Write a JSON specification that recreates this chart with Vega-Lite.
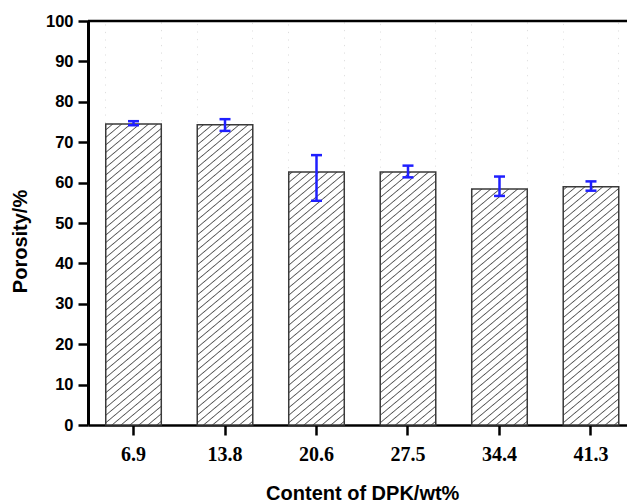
{
  "$schema": "https://vega.github.io/schema/vega-lite/v6.json",
  "width": 539,
  "height": 404,
  "autosize": {"type": "none"},
  "padding": {"left": 88, "top": 21, "right": 0, "bottom": 77},
  "background": "white",
  "data": {"values": [
    {"content": 6.9, "porosity": 74.5, "lo": 74.2, "hi": 75.2},
    {"content": 13.8, "porosity": 74.3, "lo": 72.8, "hi": 75.7},
    {"content": 20.6, "porosity": 62.6, "lo": 55.5, "hi": 66.8},
    {"content": 27.5, "porosity": 62.6, "lo": 61.3, "hi": 64.2},
    {"content": 34.4, "porosity": 58.4, "lo": 56.7, "hi": 61.5},
    {"content": 41.3, "porosity": 59.0, "lo": 58.0, "hi": 60.3}
  ]},
  "config": {
    "view": {"stroke": null},
    "axis": {"grid": false, "domainColor": "black", "domainWidth": 2.5, "domainOpacity": 1, "tickColor": "black", "tickWidth": 2.5, "tickSize": 10, "labelColor": "black", "titleColor": "black", "labelFontWeight": "bold", "titleFontWeight": "bold", "titleFont": "Liberation Sans", "titleFontSize": 20},
    "axisX": {"labelFont": "Liberation Serif", "labelFontSize": 20, "labelAngle": 0, "labelPadding": 25, "labelBaseline": "alphabetic", "titleY": 74, "titleBaseline": "alphabetic"},
    "axisY": {"labelFont": "Liberation Sans", "labelFontSize": 16.5, "labelPadding": 5, "titleX": -68, "titleY": 220, "titleBaseline": "middle", "values": [0, 10, 20, 30, 40, 50, 60, 70, 80, 90, 100]}
  },
  "layer": [
    {
      "mark": {"type": "bar", "stroke": null, "fill": {"gradient": "linear", "x1": 0, "y1": 0, "x2": 0.1269, "y2": 1.1007, "stops": [
        {"offset": 0.0058, "color": "#fff"}, {"offset": 0.0083, "color": "#555"}, {"offset": 0.0108, "color": "#fff"},
        {"offset": 0.0225, "color": "#fff"}, {"offset": 0.0250, "color": "#555"}, {"offset": 0.0275, "color": "#fff"},
        {"offset": 0.0392, "color": "#fff"}, {"offset": 0.0417, "color": "#555"}, {"offset": 0.0442, "color": "#fff"},
        {"offset": 0.0558, "color": "#fff"}, {"offset": 0.0583, "color": "#555"}, {"offset": 0.0608, "color": "#fff"},
        {"offset": 0.0725, "color": "#fff"}, {"offset": 0.0750, "color": "#555"}, {"offset": 0.0775, "color": "#fff"},
        {"offset": 0.0892, "color": "#fff"}, {"offset": 0.0917, "color": "#555"}, {"offset": 0.0942, "color": "#fff"},
        {"offset": 0.1058, "color": "#fff"}, {"offset": 0.1083, "color": "#555"}, {"offset": 0.1108, "color": "#fff"},
        {"offset": 0.1225, "color": "#fff"}, {"offset": 0.1250, "color": "#555"}, {"offset": 0.1275, "color": "#fff"},
        {"offset": 0.1392, "color": "#fff"}, {"offset": 0.1417, "color": "#555"}, {"offset": 0.1442, "color": "#fff"},
        {"offset": 0.1558, "color": "#fff"}, {"offset": 0.1583, "color": "#555"}, {"offset": 0.1608, "color": "#fff"},
        {"offset": 0.1725, "color": "#fff"}, {"offset": 0.1750, "color": "#555"}, {"offset": 0.1775, "color": "#fff"},
        {"offset": 0.1892, "color": "#fff"}, {"offset": 0.1917, "color": "#555"}, {"offset": 0.1942, "color": "#fff"},
        {"offset": 0.2058, "color": "#fff"}, {"offset": 0.2083, "color": "#555"}, {"offset": 0.2108, "color": "#fff"},
        {"offset": 0.2225, "color": "#fff"}, {"offset": 0.2250, "color": "#555"}, {"offset": 0.2275, "color": "#fff"},
        {"offset": 0.2392, "color": "#fff"}, {"offset": 0.2417, "color": "#555"}, {"offset": 0.2442, "color": "#fff"},
        {"offset": 0.2558, "color": "#fff"}, {"offset": 0.2583, "color": "#555"}, {"offset": 0.2608, "color": "#fff"},
        {"offset": 0.2725, "color": "#fff"}, {"offset": 0.2750, "color": "#555"}, {"offset": 0.2775, "color": "#fff"},
        {"offset": 0.2892, "color": "#fff"}, {"offset": 0.2917, "color": "#555"}, {"offset": 0.2942, "color": "#fff"},
        {"offset": 0.3058, "color": "#fff"}, {"offset": 0.3083, "color": "#555"}, {"offset": 0.3108, "color": "#fff"},
        {"offset": 0.3225, "color": "#fff"}, {"offset": 0.3250, "color": "#555"}, {"offset": 0.3275, "color": "#fff"},
        {"offset": 0.3392, "color": "#fff"}, {"offset": 0.3417, "color": "#555"}, {"offset": 0.3442, "color": "#fff"},
        {"offset": 0.3558, "color": "#fff"}, {"offset": 0.3583, "color": "#555"}, {"offset": 0.3608, "color": "#fff"},
        {"offset": 0.3725, "color": "#fff"}, {"offset": 0.3750, "color": "#555"}, {"offset": 0.3775, "color": "#fff"},
        {"offset": 0.3892, "color": "#fff"}, {"offset": 0.3917, "color": "#555"}, {"offset": 0.3942, "color": "#fff"},
        {"offset": 0.4058, "color": "#fff"}, {"offset": 0.4083, "color": "#555"}, {"offset": 0.4108, "color": "#fff"},
        {"offset": 0.4225, "color": "#fff"}, {"offset": 0.4250, "color": "#555"}, {"offset": 0.4275, "color": "#fff"},
        {"offset": 0.4392, "color": "#fff"}, {"offset": 0.4417, "color": "#555"}, {"offset": 0.4442, "color": "#fff"},
        {"offset": 0.4558, "color": "#fff"}, {"offset": 0.4583, "color": "#555"}, {"offset": 0.4608, "color": "#fff"},
        {"offset": 0.4725, "color": "#fff"}, {"offset": 0.4750, "color": "#555"}, {"offset": 0.4775, "color": "#fff"},
        {"offset": 0.4892, "color": "#fff"}, {"offset": 0.4917, "color": "#555"}, {"offset": 0.4942, "color": "#fff"},
        {"offset": 0.5058, "color": "#fff"}, {"offset": 0.5083, "color": "#555"}, {"offset": 0.5108, "color": "#fff"},
        {"offset": 0.5225, "color": "#fff"}, {"offset": 0.5250, "color": "#555"}, {"offset": 0.5275, "color": "#fff"},
        {"offset": 0.5392, "color": "#fff"}, {"offset": 0.5417, "color": "#555"}, {"offset": 0.5442, "color": "#fff"},
        {"offset": 0.5558, "color": "#fff"}, {"offset": 0.5583, "color": "#555"}, {"offset": 0.5608, "color": "#fff"},
        {"offset": 0.5725, "color": "#fff"}, {"offset": 0.5750, "color": "#555"}, {"offset": 0.5775, "color": "#fff"},
        {"offset": 0.5892, "color": "#fff"}, {"offset": 0.5917, "color": "#555"}, {"offset": 0.5942, "color": "#fff"},
        {"offset": 0.6058, "color": "#fff"}, {"offset": 0.6083, "color": "#555"}, {"offset": 0.6108, "color": "#fff"},
        {"offset": 0.6225, "color": "#fff"}, {"offset": 0.6250, "color": "#555"}, {"offset": 0.6275, "color": "#fff"},
        {"offset": 0.6392, "color": "#fff"}, {"offset": 0.6417, "color": "#555"}, {"offset": 0.6442, "color": "#fff"},
        {"offset": 0.6558, "color": "#fff"}, {"offset": 0.6583, "color": "#555"}, {"offset": 0.6608, "color": "#fff"},
        {"offset": 0.6725, "color": "#fff"}, {"offset": 0.6750, "color": "#555"}, {"offset": 0.6775, "color": "#fff"},
        {"offset": 0.6892, "color": "#fff"}, {"offset": 0.6917, "color": "#555"}, {"offset": 0.6942, "color": "#fff"},
        {"offset": 0.7058, "color": "#fff"}, {"offset": 0.7083, "color": "#555"}, {"offset": 0.7108, "color": "#fff"},
        {"offset": 0.7225, "color": "#fff"}, {"offset": 0.7250, "color": "#555"}, {"offset": 0.7275, "color": "#fff"},
        {"offset": 0.7392, "color": "#fff"}, {"offset": 0.7417, "color": "#555"}, {"offset": 0.7442, "color": "#fff"},
        {"offset": 0.7558, "color": "#fff"}, {"offset": 0.7583, "color": "#555"}, {"offset": 0.7608, "color": "#fff"},
        {"offset": 0.7725, "color": "#fff"}, {"offset": 0.7750, "color": "#555"}, {"offset": 0.7775, "color": "#fff"},
        {"offset": 0.7892, "color": "#fff"}, {"offset": 0.7917, "color": "#555"}, {"offset": 0.7942, "color": "#fff"},
        {"offset": 0.8058, "color": "#fff"}, {"offset": 0.8083, "color": "#555"}, {"offset": 0.8108, "color": "#fff"},
        {"offset": 0.8225, "color": "#fff"}, {"offset": 0.8250, "color": "#555"}, {"offset": 0.8275, "color": "#fff"},
        {"offset": 0.8392, "color": "#fff"}, {"offset": 0.8417, "color": "#555"}, {"offset": 0.8442, "color": "#fff"},
        {"offset": 0.8558, "color": "#fff"}, {"offset": 0.8583, "color": "#555"}, {"offset": 0.8608, "color": "#fff"},
        {"offset": 0.8725, "color": "#fff"}, {"offset": 0.8750, "color": "#555"}, {"offset": 0.8775, "color": "#fff"},
        {"offset": 0.8892, "color": "#fff"}, {"offset": 0.8917, "color": "#555"}, {"offset": 0.8942, "color": "#fff"},
        {"offset": 0.9058, "color": "#fff"}, {"offset": 0.9083, "color": "#555"}, {"offset": 0.9108, "color": "#fff"},
        {"offset": 0.9225, "color": "#fff"}, {"offset": 0.9250, "color": "#555"}, {"offset": 0.9275, "color": "#fff"},
        {"offset": 0.9392, "color": "#fff"}, {"offset": 0.9417, "color": "#555"}, {"offset": 0.9442, "color": "#fff"},
        {"offset": 0.9558, "color": "#fff"}, {"offset": 0.9583, "color": "#555"}, {"offset": 0.9608, "color": "#fff"},
        {"offset": 0.9725, "color": "#fff"}, {"offset": 0.9750, "color": "#555"}, {"offset": 0.9775, "color": "#fff"},
        {"offset": 0.9892, "color": "#fff"}, {"offset": 0.9917, "color": "#555"}, {"offset": 0.9942, "color": "#fff"}
      ]}},
      "encoding": {
        "x": {"field": "content", "type": "ordinal", "title": "Content of DPK/wt%", "scale": {"type": "band", "range": [0, 548.5], "paddingInner": 0.393, "paddingOuter": 0.194}},
        "y": {"datum": 0, "type": "quantitative", "title": "Porosity/%", "scale": {"domain": [0, 100], "nice": false}, "axis": {"domainColor": "#000000", "domainWidth": 3, "domainOpacity": 1}},
        "y2": {"datum": 100}
      }
    },
    {
      "mark": {"type": "bar", "fill": "white", "stroke": null},
      "encoding": {
        "x": {"field": "content", "type": "ordinal", "title": "Content of DPK/wt%", "scale": {"type": "band", "range": [0, 548.5], "paddingInner": 0.393, "paddingOuter": 0.194}},
        "y": {"field": "porosity", "type": "quantitative", "title": "Porosity/%", "scale": {"domain": [0, 100], "nice": false}},
        "y2": {"datum": 100}
      }
    },
    {
      "mark": {"type": "bar", "fill": "white", "fillOpacity": 0, "stroke": "#3a3a3a", "strokeWidth": 1.5},
      "encoding": {
        "x": {"field": "content", "type": "ordinal", "title": "Content of DPK/wt%", "scale": {"type": "band", "range": [0, 548.5], "paddingInner": 0.393, "paddingOuter": 0.194}},
        "y": {"field": "porosity", "type": "quantitative", "title": "Porosity/%", "scale": {"domain": [0, 100], "nice": false}}
      }
    },
    {
      "mark": {"type": "rule", "color": "#1f1fff", "strokeWidth": 2.5},
      "encoding": {
        "x": {"field": "content", "type": "ordinal", "title": "Content of DPK/wt%", "scale": {"type": "band", "range": [0, 548.5], "paddingInner": 0.393, "paddingOuter": 0.194}},
        "y": {"field": "lo", "type": "quantitative", "title": "Porosity/%", "scale": {"domain": [0, 100], "nice": false}},
        "y2": {"field": "hi"}
      }
    },
    {
      "mark": {"type": "tick", "color": "#1f1fff", "size": 11, "thickness": 2.5, "opacity": 1},
      "encoding": {
        "x": {"field": "content", "type": "ordinal", "title": "Content of DPK/wt%", "scale": {"type": "band", "range": [0, 548.5], "paddingInner": 0.393, "paddingOuter": 0.194}},
        "y": {"field": "lo", "type": "quantitative", "title": "Porosity/%", "scale": {"domain": [0, 100], "nice": false}}
      }
    },
    {
      "mark": {"type": "tick", "color": "#1f1fff", "size": 11, "thickness": 2.5, "opacity": 1},
      "encoding": {
        "x": {"field": "content", "type": "ordinal", "title": "Content of DPK/wt%", "scale": {"type": "band", "range": [0, 548.5], "paddingInner": 0.393, "paddingOuter": 0.194}},
        "y": {"field": "hi", "type": "quantitative", "title": "Porosity/%", "scale": {"domain": [0, 100], "nice": false}}
      }
    },
    {
      "data": {"values": [{}]},
      "mark": {"type": "rule", "color": "black", "strokeWidth": 2.5},
      "encoding": {
        "y": {"datum": 100, "type": "quantitative", "title": "Porosity/%", "scale": {"domain": [0, 100], "nice": false}}
      }
    }
  ]
}
